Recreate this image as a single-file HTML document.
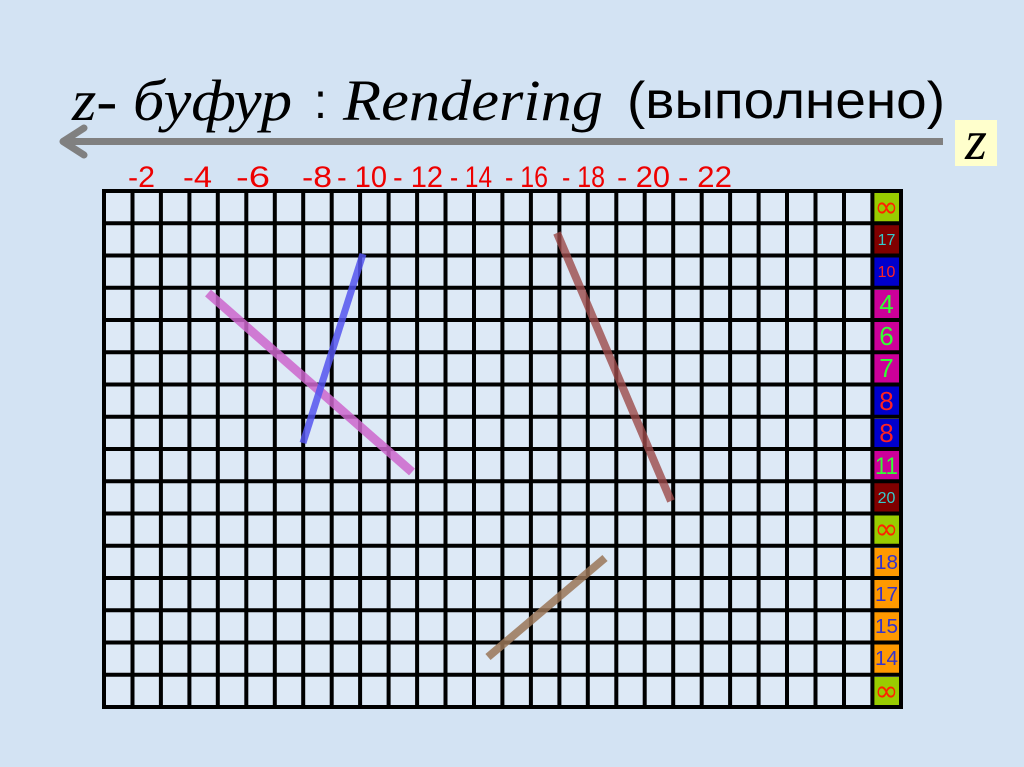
<!DOCTYPE html>
<html>
<head>
<meta charset="utf-8">
<style>
html,body{margin:0;padding:0}
body{width:1024px;height:767px;overflow:hidden;background:#d3e3f3}
svg{display:block}
</style>
</head>
<body>
<svg width="1024" height="767" viewBox="0 0 1024 767" xmlns="http://www.w3.org/2000/svg">
<rect width="1024" height="767" fill="#d3e3f3"/>
<g fill="#000">
<text x="72" y="120" font-family="'Liberation Serif',serif" font-style="italic" font-size="58" textLength="220" lengthAdjust="spacingAndGlyphs">z- буфур</text>
<text x="314" y="118" font-family="'Liberation Sans',sans-serif" font-size="50" textLength="13" lengthAdjust="spacingAndGlyphs">:</text>
<text x="343" y="120" font-family="'Liberation Serif',serif" font-style="italic" font-size="58" textLength="260" lengthAdjust="spacingAndGlyphs">Rendering</text>
<text x="627" y="118" font-family="'Liberation Sans',sans-serif" font-size="52" textLength="318" lengthAdjust="spacingAndGlyphs">(выполнено)</text>
</g>
<line x1="64" y1="141.5" x2="943" y2="141.5" stroke="#808080" stroke-width="7"/>
<polyline points="84,128 63,141.5 84,155" fill="none" stroke="#808080" stroke-width="7" stroke-linecap="round" stroke-linejoin="round"/>
<rect x="955" y="120" width="42" height="46" fill="#ffffcc"/>
<text x="976" y="159" text-anchor="middle" font-family="'Liberation Serif',serif" font-style="italic" font-size="56">z</text>
<g font-family="'Liberation Sans',sans-serif" font-size="30" fill="#ee0000" lengthAdjust="spacingAndGlyphs">
<text x="128" y="187" textLength="27" lengthAdjust="spacingAndGlyphs">-2</text>
<text x="183" y="187" textLength="29" lengthAdjust="spacingAndGlyphs">-4</text>
<text x="236" y="187" textLength="34" lengthAdjust="spacingAndGlyphs">-6</text>
<text x="302" y="187" textLength="30" lengthAdjust="spacingAndGlyphs">-8</text>
<text x="337" y="187" textLength="50" lengthAdjust="spacingAndGlyphs">- 10</text>
<text x="393" y="187" textLength="50" lengthAdjust="spacingAndGlyphs">- 12</text>
<text x="450" y="187" textLength="42" lengthAdjust="spacingAndGlyphs">- 14</text>
<text x="505" y="187" textLength="43" lengthAdjust="spacingAndGlyphs">- 16</text>
<text x="562" y="187" textLength="43" lengthAdjust="spacingAndGlyphs">- 18</text>
<text x="617" y="187" textLength="53" lengthAdjust="spacingAndGlyphs">- 20</text>
<text x="678" y="187" textLength="54" lengthAdjust="spacingAndGlyphs">- 22</text>
</g>
<rect x="104" y="191" width="797" height="516" fill="#dde9f6"/>
<rect x="874" y="193" width="25" height="29" fill="#99cc00"/>
<rect x="874" y="225" width="25" height="29" fill="#800000"/>
<rect x="874" y="257" width="25" height="29" fill="#0000cc"/>
<rect x="874" y="290" width="25" height="29" fill="#cc0099"/>
<rect x="874" y="322" width="25" height="29" fill="#cc0099"/>
<rect x="874" y="354" width="25" height="29" fill="#cc0099"/>
<rect x="874" y="386" width="25" height="29" fill="#0000cc"/>
<rect x="874" y="419" width="25" height="29" fill="#0000cc"/>
<rect x="874" y="451" width="25" height="29" fill="#cc0099"/>
<rect x="874" y="483" width="25" height="29" fill="#800000"/>
<rect x="874" y="515" width="25" height="29" fill="#99cc00"/>
<rect x="874" y="548" width="25" height="29" fill="#ff9900"/>
<rect x="874" y="580" width="25" height="29" fill="#ff9900"/>
<rect x="874" y="612" width="25" height="29" fill="#ff9900"/>
<rect x="874" y="644" width="25" height="29" fill="#ff9900"/>
<rect x="874" y="677" width="25" height="29" fill="#99cc00"/>
<path stroke="#000" stroke-width="4" fill="none" d="M104 189V709M132.5 189V709M160.9 189V709M189.4 189V709M217.8 189V709M246.3 189V709M274.8 189V709M303.2 189V709M331.7 189V709M360.1 189V709M388.6 189V709M417.1 189V709M445.5 189V709M474 189V709M502.4 189V709M530.9 189V709M559.4 189V709M587.8 189V709M616.3 189V709M644.7 189V709M673.2 189V709M701.7 189V709M730.1 189V709M758.6 189V709M787 189V709M815.5 189V709M844 189V709M872.4 189V709M901 189V709"/>
<path stroke="#000" stroke-width="4" fill="none" d="M102 191H903M102 223.3H903M102 255.5H903M102 287.8H903M102 320H903M102 352.3H903M102 384.5H903M102 416.8H903M102 449H903M102 481.3H903M102 513.5H903M102 545.8H903M102 578H903M102 610.3H903M102 642.5H903M102 674.8H903M102 707H903"/>
<g font-family="'Liberation Sans',sans-serif" text-anchor="middle">
<text x="886.5" y="217" font-size="30" fill="#ff2200" font-family="'DejaVu Sans',sans-serif" textLength="24" lengthAdjust="spacingAndGlyphs">∞</text>
<text x="886.5" y="245" font-size="16" fill="#33cccc">17</text>
<text x="886.5" y="277" font-size="16" fill="#ff2222">10</text>
<text x="886.5" y="313" font-size="26" fill="#33ff33">4</text>
<text x="886.5" y="345" font-size="26" fill="#33ff33">6</text>
<text x="886.5" y="377" font-size="26" fill="#33ff33">7</text>
<text x="886.5" y="410" font-size="26" fill="#ff2222">8</text>
<text x="886.5" y="442" font-size="26" fill="#ff2222">8</text>
<text x="886.5" y="474" font-size="24" fill="#33ff33" textLength="23" lengthAdjust="spacingAndGlyphs">11</text>
<text x="886.5" y="503" font-size="16" fill="#33cccc">20</text>
<text x="886.5" y="539" font-size="30" fill="#ff2200" font-family="'DejaVu Sans',sans-serif" textLength="24" lengthAdjust="spacingAndGlyphs">∞</text>
<text x="886.5" y="569" font-size="20" fill="#3333cc" textLength="23" lengthAdjust="spacingAndGlyphs">18</text>
<text x="886.5" y="601" font-size="20" fill="#3333cc" textLength="23" lengthAdjust="spacingAndGlyphs">17</text>
<text x="886.5" y="633" font-size="20" fill="#3333cc" textLength="23" lengthAdjust="spacingAndGlyphs">15</text>
<text x="886.5" y="665" font-size="20" fill="#3333cc" textLength="23" lengthAdjust="spacingAndGlyphs">14</text>
<text x="886.5" y="701" font-size="30" fill="#ff2200" font-family="'DejaVu Sans',sans-serif" textLength="24" lengthAdjust="spacingAndGlyphs">∞</text>
</g>
<line x1="208" y1="293" x2="412" y2="472" stroke="#cc66cc" stroke-width="9" stroke-opacity="0.85"/>
<line x1="363" y1="254" x2="303" y2="443" stroke="#5555ee" stroke-width="7" stroke-opacity="0.85"/>
<line x1="557" y1="233" x2="671" y2="501" stroke="#9c4a4a" stroke-width="8" stroke-opacity="0.8"/>
<line x1="488" y1="657" x2="605" y2="558" stroke="#9a7658" stroke-width="8" stroke-opacity="0.85"/>
</svg>
</body>
</html>
